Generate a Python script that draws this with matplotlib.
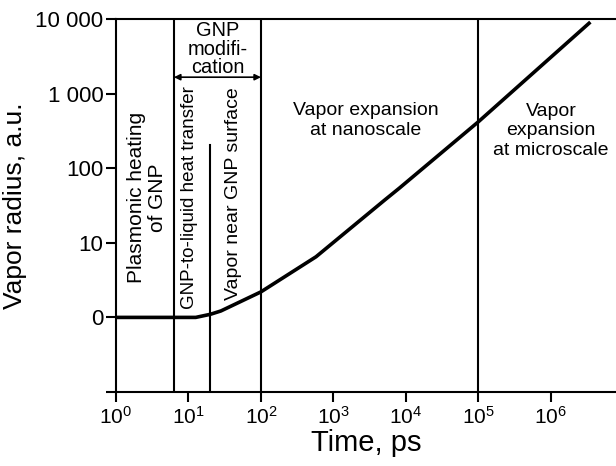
import matplotlib
matplotlib.use("Agg")
import matplotlib.pyplot as plt
from matplotlib.ticker import FixedLocator, FixedFormatter, NullLocator

plt.rcParams['font.family'] = ['Liberation Sans', 'DejaVu Sans']
plt.rcParams['mathtext.fontset'] = 'custom'
plt.rcParams['mathtext.rm'] = 'Liberation Sans'
plt.rcParams['mathtext.it'] = 'Liberation Sans'
plt.rcParams['mathtext.bf'] = 'Liberation Sans'

# Curve data (time in ps, vapor radius in a.u.)
time_ps = [1, 12.6, 20, 28, 100, 575, 5100, 8100, 1e5, 3.5e6]
radius = [1, 1, 1.1, 1.22, 2.2, 6.5, 37.5, 54, 420, 9100]

# Region boundaries (ps)
boundaries_full = [6.3, 100, 1e5]
boundary_partial = 20
boundary_partial_top = 204

x_ticks = [1, 10, 100, 1e3, 1e4, 1e5, 1e6]
x_tick_labels = [r'$10^{0}$', r'$10^{1}$', r'$10^{2}$', r'$10^{3}$',
                 r'$10^{4}$', r'$10^{5}$', r'$10^{6}$']
y_ticks = [0.1, 1, 10, 100, 1000, 10000]
y_tick_labels = ['', '0', '10', '100', '1 000', '10 000']

fig = plt.figure(figsize=(6.16, 4.66), dpi=100)
ax = fig.add_axes([0.1883, 0.1588, 0.8117, 0.8004])
ax.set_xscale('log')
ax.set_yscale('log')
ax.set_xlim(1, 7.9e6)
ax.set_ylim(0.1, 10000)

ax.plot(time_ps, radius, color='black', lw=2.6, solid_capstyle='butt')

for b in boundaries_full:
    ax.axvline(b, color='black', lw=1.5)
ax.plot([boundary_partial, boundary_partial], [0.1, boundary_partial_top],
        color='black', lw=1.5)

ax.annotate('', xy=(6.3, 1660), xytext=(100, 1660),
            arrowprops=dict(arrowstyle='<|-|>', color='black', lw=1.2,
                            mutation_scale=9, shrinkA=0, shrinkB=0))

ax.xaxis.set_major_locator(FixedLocator(x_ticks))
ax.xaxis.set_major_formatter(FixedFormatter(x_tick_labels))
ax.xaxis.set_minor_locator(NullLocator())
ax.yaxis.set_major_locator(FixedLocator(y_ticks))
ax.yaxis.set_major_formatter(FixedFormatter(y_tick_labels))
ax.yaxis.set_minor_locator(NullLocator())

ax.tick_params(axis='x', direction='out', length=7, width=1.5, labelsize=15, pad=3)
ax.tick_params(axis='y', direction='out', length=7, width=1.5, labelsize=16, pad=2)

for s in ['left', 'bottom', 'top']:
    ax.spines[s].set_linewidth(1.5)
ax.spines['right'].set_visible(False)

ax.set_xlabel('Time, ps', fontsize=21, labelpad=1)
ax.set_ylabel('Vapor radius, a.u.', fontsize=19, labelpad=6)

tkw = dict(ha='center', va='center', color='black')
ax.text(2.7, 40, 'Plasmonic heating\nof GNP', rotation=90, fontsize=15,
        linespacing=1.15, **tkw)
ax.text(10.3, 40, 'GNP-to-liquid heat transfer', rotation=90, fontsize=13.5, **tkw)
ax.text(42, 46, 'Vapor near GNP surface', rotation=90, fontsize=14, **tkw)
ax.text(25, 3960, 'GNP\nmodifi-\ncation', fontsize=14.4, linespacing=0.95, **tkw)
ax.text(2800, 440, 'Vapor expansion\nat nanoscale', fontsize=14, linespacing=1.2, **tkw)
ax.text(1.0e6, 316, 'Vapor\nexpansion\nat microscale', fontsize=14,
        linespacing=1.2, **tkw)

fig.savefig('out.png', dpi=100)
